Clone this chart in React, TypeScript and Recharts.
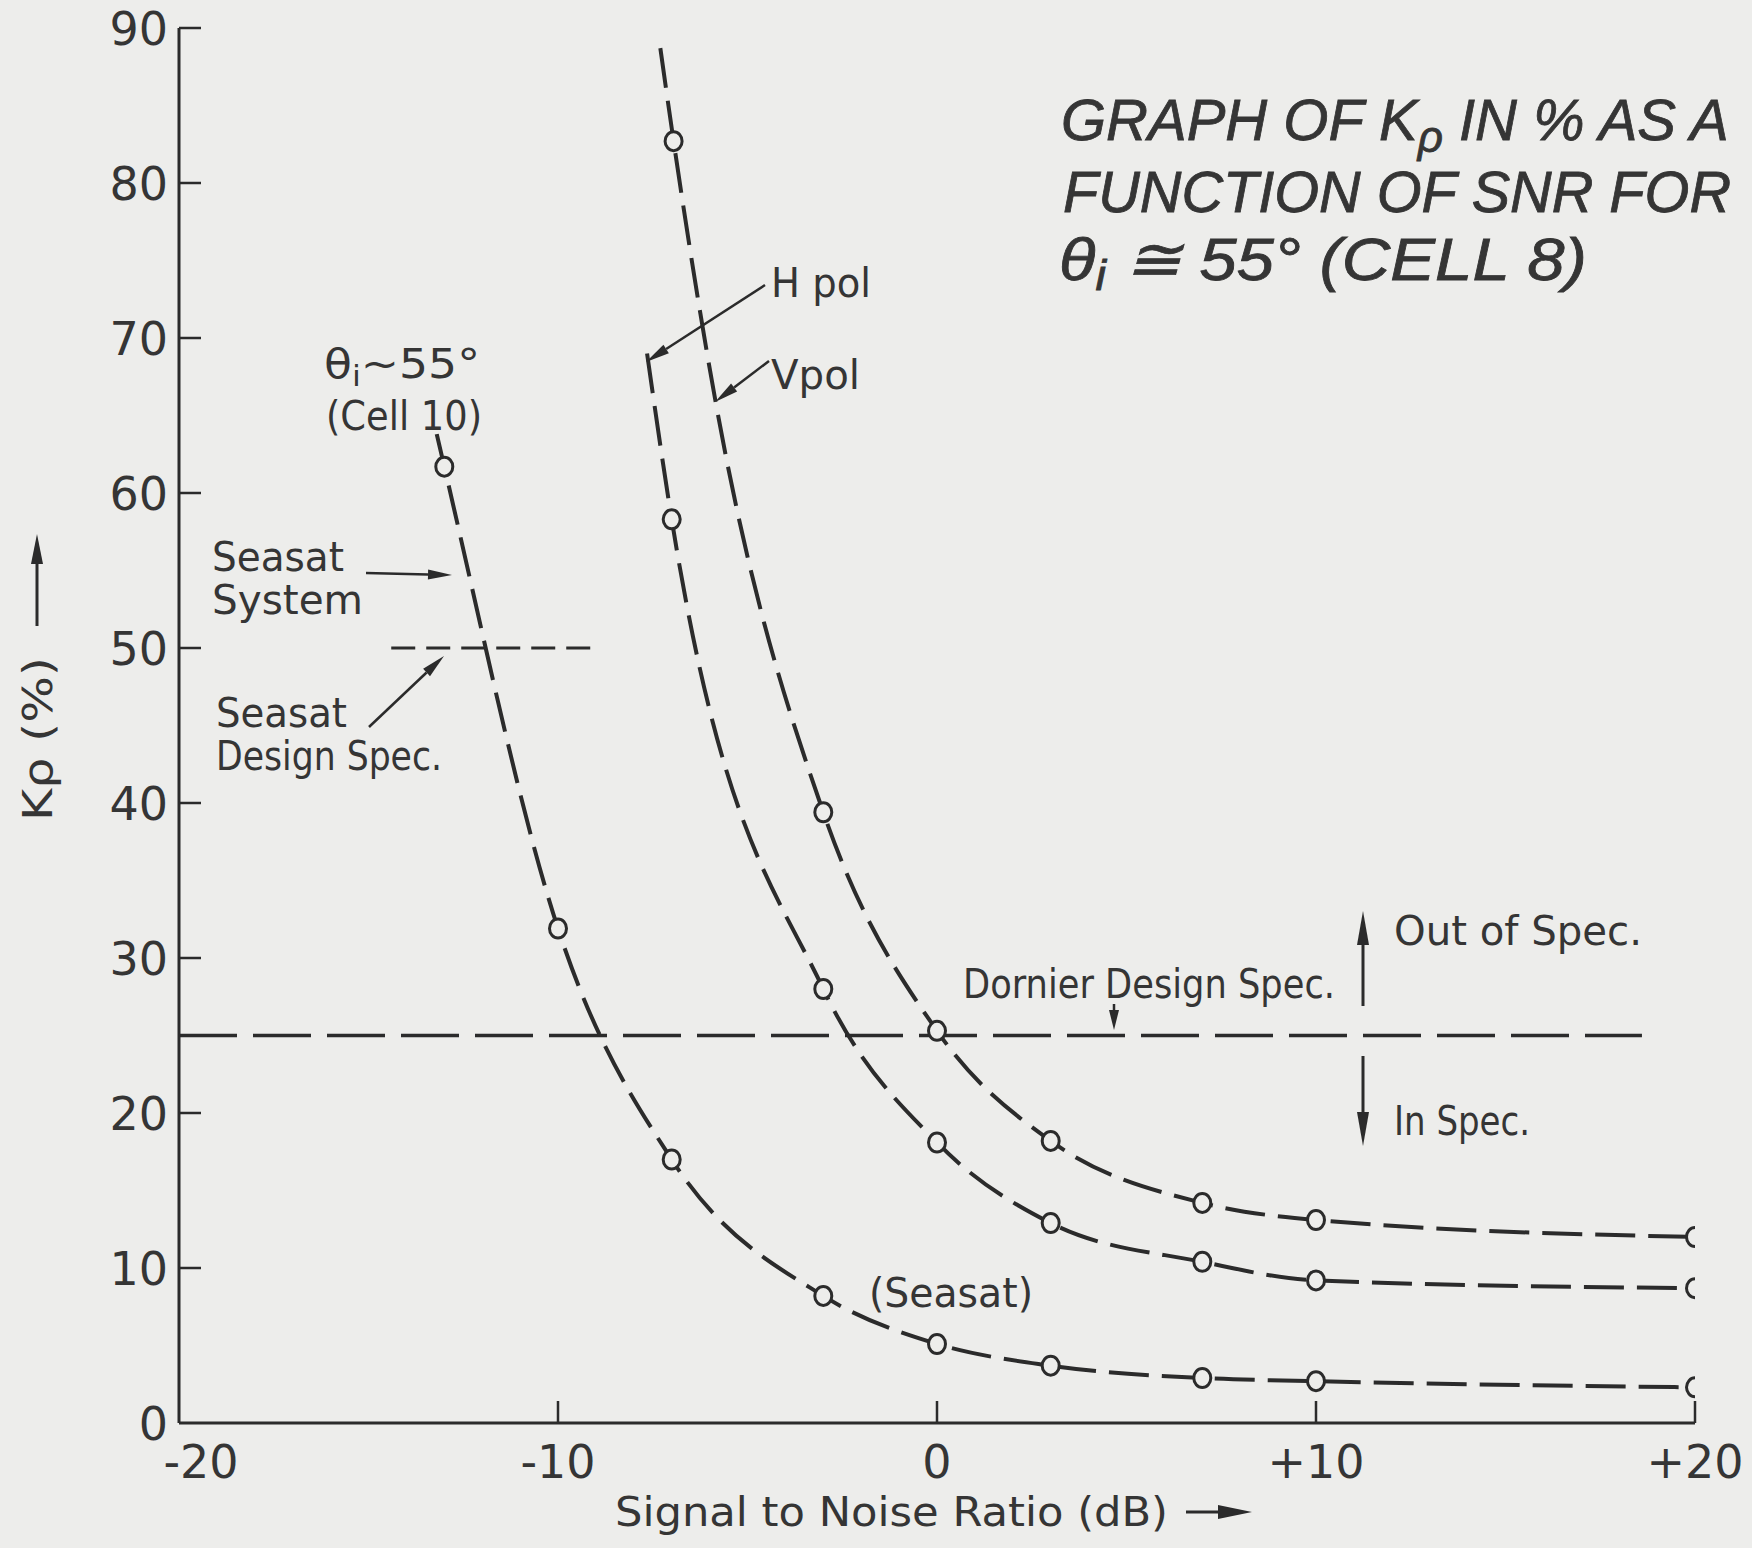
import { LineChart, Line, XAxis, YAxis, ReferenceLine } from 'recharts';

const W = 1752;
const H = 1548;
const PAPER = '#ededeb';
const INK = '#2b2b2b';
const TEXT = '#353535';
const FONT = '"DejaVu Sans", "Noto Sans", sans-serif';

const snrTicks = [-20, -10, 0, 10, 20];
const snrTickLabels = ['-20', '-10', '0', '+10', '+20'];
const kpTicks = [0, 10, 20, 30, 40, 50, 60, 70, 80, 90];

// Seasat, θi ~ 55° (Cell 10)
const seasatSnr = [-13.2, -13, -10, -7, -3, 0, 3, 7, 10, 20];
const seasatKp = [63.8, 61.7, 31.9, 17.0, 8.2, 5.1, 3.7, 2.9, 2.7, 2.3];
const seasatMarked = [false, true, true, true, true, true, true, true, true, true];

// H pol, θi ≅ 55° (Cell 8)
const hpolSnr = [-7.65, -7, -3, 0, 3, 7, 10, 20];
const hpolKp = [69.0, 58.3, 28.0, 18.1, 12.9, 10.4, 9.2, 8.7];
const hpolMarked = [false, true, true, true, true, true, true, true];

// V pol, θi ≅ 55° (Cell 8)
const vpolSnr = [-7.3, -6.95, -5.85, -3, 0, 3, 7, 10, 20];
const vpolKp = [88.7, 82.7, 66.0, 39.4, 25.3, 18.2, 14.2, 13.1, 12.0];
const vpolMarked = [false, true, false, true, true, true, true, true, true];

const rows = (snr: number[], kp: number[], marked: boolean[]) =>
  snr.map((s, i) => ({ snr: s, kp: kp[i], marked: marked[i] }));

const seasatRows = rows(seasatSnr, seasatKp, seasatMarked);
const hpolRows = rows(hpolSnr, hpolKp, hpolMarked);
const vpolRows = rows(vpolSnr, vpolKp, vpolMarked);

const OpenDot = (props: any) => {
  const { cx, cy, payload, index } = props;
  if (!payload || !payload.marked) return <g key={`d-${index}`} />;
  return (
    <ellipse key={`d-${index}`} cx={cx} cy={cy} rx={8.5} ry={9.5}
      fill={PAPER} stroke={INK} strokeWidth={3} />
  );
};

// ticks point into the plot, labels sit outside
const XTick = (props: any) => {
  const { x, y, payload } = props;
  const i = snrTicks.indexOf(payload.value);
  const shift = payload.value === -20 ? 22 : 0;
  return (
    <g>
      {payload.value !== -20 && (
        <line x1={x} y1={y - 22} x2={x} y2={y - 44} stroke={INK} strokeWidth={2.5} />
      )}
      <text x={x + shift} y={y} dy="0.71em" textAnchor="middle"
        fontFamily={FONT} fontSize={46} fill={TEXT}>
        {snrTickLabels[i]}
      </text>
    </g>
  );
};

const YTick = (props: any) => {
  const { x, y, payload } = props;
  return (
    <g>
      {payload.value !== 0 && (
        <line x1={x + 11} y1={y} x2={x + 33} y2={y} stroke={INK} strokeWidth={2.5} />
      )}
      <text x={x} y={y} dy="0.36em" textAnchor="end"
        fontFamily={FONT} fontSize={46} fill={TEXT}>
        {payload.value}
      </text>
    </g>
  );
};

// arrow with a long filled head at (x2, y2)
const Arrow = ({ x1, y1, x2, y2, head = 24, half = 5, w = 2.5 }: any) => {
  const dx = x2 - x1;
  const dy = y2 - y1;
  const len = Math.sqrt(dx * dx + dy * dy);
  const ux = dx / len;
  const uy = dy / len;
  const bx = x2 - ux * head;
  const by = y2 - uy * head;
  const pts = `${x2},${y2} ${bx - uy * half},${by + ux * half} ${bx + uy * half},${by - ux * half}`;
  return (
    <g>
      <line x1={x1} y1={y1} x2={bx} y2={by} stroke={INK} strokeWidth={w} />
      <polygon points={pts} fill={INK} />
    </g>
  );
};

const Label = ({ x, y, len, size = 40, children }: any) => (
  <text x={x} y={y} fontFamily={FONT} fontSize={size} fill={TEXT}
    textLength={len} lengthAdjust="spacingAndGlyphs">
    {children}
  </text>
);

export default function App() {
  return (
    <div style={{ position: 'absolute', left: 0, top: 0, width: W, height: H, background: PAPER, overflow: 'hidden' }}>
      <LineChart width={W} height={H} margin={{ top: 28, right: 57, bottom: 65, left: 0 }}>
        <XAxis type="number" dataKey="snr" domain={[-20, 20]} ticks={snrTicks} interval={0}
          allowDataOverflow height={60} tickSize={0} tickMargin={22} tickLine={false}
          axisLine={{ stroke: INK, strokeWidth: 3 }} tick={<XTick />} />
        <YAxis type="number" dataKey="kp" domain={[0, 90]} ticks={kpTicks} interval={0}
          allowDataOverflow width={179} tickSize={0} tickMargin={11} tickLine={false}
          axisLine={{ stroke: INK, strokeWidth: 3 }} tick={<YTick />} />
        <ReferenceLine segment={[{ x: -20, y: 25 }, { x: 18.6, y: 25 }]}
          stroke={INK} strokeWidth={3.5} strokeDasharray="58 16" />
        <ReferenceLine segment={[{ x: -14.4, y: 50 }, { x: -8.9, y: 50 }]}
          stroke={INK} strokeWidth={2.8} strokeDasharray="24 11" />
        <Line data={seasatRows} dataKey="kp" type="monotone" stroke={INK} strokeWidth={4}
          strokeDasharray="40 13" dot={OpenDot} activeDot={false} isAnimationActive={false} />
        <Line data={hpolRows} dataKey="kp" type="monotone" stroke={INK} strokeWidth={4}
          strokeDasharray="40 13" dot={OpenDot} activeDot={false} isAnimationActive={false} />
        <Line data={vpolRows} dataKey="kp" type="monotone" stroke={INK} strokeWidth={4}
          strokeDasharray="40 13" dot={OpenDot} activeDot={false} isAnimationActive={false} />
      </LineChart>

      <svg width={W} height={H} style={{ position: 'absolute', left: 0, top: 0, pointerEvents: 'none' }}>
        {/* title */}
        <g fontFamily='"Liberation Sans", Arial, sans-serif' fontStyle="italic"
          fill={TEXT} stroke={TEXT} strokeWidth={0.8}>
          <text x={1061} y={140} fontSize={58}>
            GRAPH OF K<tspan dy={12} fontSize={44}>ρ</tspan><tspan dy={-12}> IN % AS A</tspan>
          </text>
          <text x={1063} y={212} fontSize={57} textLength={668} lengthAdjust="spacingAndGlyphs">
            FUNCTION OF SNR FOR
          </text>
          <text x={1059} y={280} fontSize={60} textLength={528} lengthAdjust="spacingAndGlyphs">
            θ<tspan dy={10} fontSize={42}>i</tspan><tspan dy={-10}> ≅ 55° (CELL 8)</tspan>
          </text>
        </g>

        {/* axis titles */}
        <g transform="translate(52, 821) rotate(-90)">
          <text x={0} y={0} fontFamily={FONT} fontSize={40} fill={TEXT}
            textLength={164} lengthAdjust="spacingAndGlyphs">Kρ (%)</text>
        </g>
        <Arrow x1={37} y1={626} x2={37} y2={534} head={30} half={6} w={3} />
        <Label x={615} y={1526} len={553} size={40}>Signal to Noise Ratio (dB)</Label>
        <Arrow x1={1186} y1={1512} x2={1252} y2={1512} head={34} half={7} w={3} />

        {/* curve notes */}
        <text x={324} y={378} fontFamily={FONT} fontSize={40} fill={TEXT}
          textLength={156} lengthAdjust="spacingAndGlyphs">
          θ<tspan dy={8} fontSize={28}>i</tspan><tspan dy={-8}>~55°</tspan>
        </text>
        <Label x={326} y={430} len={156}>(Cell 10)</Label>
        <Label x={212} y={571} len={132}>Seasat</Label>
        <Label x={212} y={614} len={151}>System</Label>
        <Arrow x1={366} y1={573} x2={452} y2={575} />
        <Label x={216} y={727} len={131}>Seasat</Label>
        <Label x={216} y={770} len={226}>Design Spec.</Label>
        <Arrow x1={369} y1={727} x2={444} y2={656} />
        <Label x={771} y={297} len={100}>H pol</Label>
        <Arrow x1={765} y1={285} x2={646} y2={362} />
        <Label x={771} y={389} len={89}>Vpol</Label>
        <Arrow x1={769} y1={361} x2={715} y2={402} />
        <Label x={869} y={1307} len={164}>(Seasat)</Label>

        {/* spec notes */}
        <Label x={963} y={998} len={372}>Dornier Design Spec.</Label>
        <Arrow x1={1114} y1={1004} x2={1114} y2={1030} head={20} half={5} />
        <Arrow x1={1363} y1={1006} x2={1363} y2={911} head={34} half={6} w={3} />
        <Arrow x1={1363} y1={1056} x2={1363} y2={1146} head={34} half={6} w={3} />
        <Label x={1394} y={945} len={248}>Out of Spec.</Label>
        <Label x={1394} y={1135} len={136}>In Spec.</Label>
      </svg>
    </div>
  );
}
